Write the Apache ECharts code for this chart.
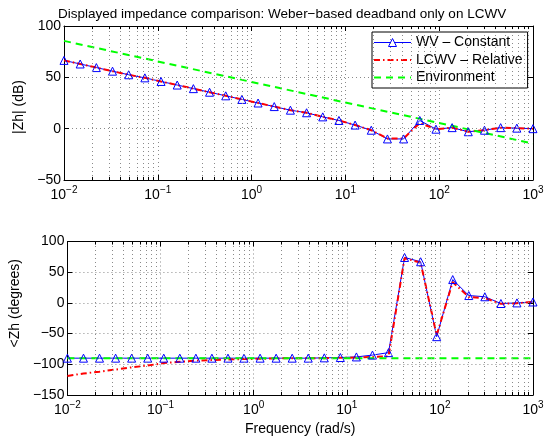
<!DOCTYPE html>
<html>
<head>
<meta charset="utf-8">
<script src="https://cdn.jsdelivr.net/npm/echarts@6/dist/echarts.min.js"></script>
<style>html,body{margin:0;padding:0;background:#fff}#c{width:554px;height:443px}</style>
</head>
<body>
<div id="c"></div>
<script>
// Frequencies (rad/s) of the sampled points
const freq = [0.01, 0.014874, 0.022122, 0.032903, 0.048939, 0.07279, 0.10826, 0.16103, 0.2395, 0.35622,
  0.52983, 0.78805, 1.1721, 1.7433, 2.5929, 3.8566, 5.7362, 8.5317, 12.69, 18.874,
  28.072, 41.753, 62.102, 92.367, 137.38, 204.34, 303.92, 452.04, 672.34, 1000];
// |Zh| (dB)
const magWV = [66.5, 63, 59.5, 56, 52.5, 49.5, 46, 42.5, 39, 35.5, 32, 28.5, 25, 21.5, 18, 15.5, 11.5, 8, 3.5, -1.5,
  -10, -10, 8, -0.5, 1, -3, -1.5, 1, 0.5, 0];
const magLCWV = [66.5, 63, 59.5, 56, 52.5, 49.5, 46, 42.5, 39, 35.5, 32, 28.5, 25, 21.5, 18, 15.5, 11.5, 8, 3.5, -1.5,
  -9.5, -9.5, 5.5, -0.5, 1, -3, -1.5, 1, 0.5, 0];
const envFreq = [0.01, 1000];
const magEnv = [85.5, -14.5];
// <Zh (degrees)
const phaseWV = [-90, -90, -90, -90, -90, -90, -90, -90, -90, -90, -90, -90, -90, -90, -90, -90, -89.5, -89, -88, -85,
  -81, 74, 67, -55, 38, 12, 10, -1, 0, 1.5];
const phaseLCWV = [-119, -115, -112, -108.5, -105, -102, -98, -96, -94, -93, -92, -91.5, -91, -90.5, -90, -90, -90, -89.5, -89, -88,
  -87, 73, 65.5, -52.5, 34, 9.5, 8, -1.5, -0.5, 1.5];
const phaseEnv = [-90, -90];
// Axis ticks
const freqTicks = [0.01, 0.1, 1, 10, 100, 1000];
const magTicks = [-50, 0, 50, 100];
const phaseTicks = [-150, -100, -50, 0, 50, 100];
const seriesNames = ['WV \u2013 Constant', 'LCWV \u2013 Relative', 'Environment'];

const pairs = (x, y) => x.map((v, i) => [v, y[i]]);
const FONT = 'Liberation Sans, Arial, Helvetica, sans-serif';
const FS = 14;
const minus = v => String(v).replace('-', '\u2212');

// minor log positions (2..9 x 10^k) for grid lines / ticks
const minorX = [];
for (let d = 0; d < freqTicks.length - 1; d++) {
  for (let m = 2; m <= 9; m++) minorX.push(+(m * freqTicks[d]).toPrecision(3));
}

function xAxisBase(gridIndex, position, showLabel) {
  return {
    type: 'log', logBase: 10, gridIndex, position,
    min: freqTicks[0], max: freqTicks[freqTicks.length - 1],
    axisLine: { show: true, onZero: false, lineStyle: { color: '#000', width: 1 } },
    axisTick: { show: true, inside: true, length: 5, lineStyle: { color: '#000' } },
    minorTick: { show: false },
    splitLine: { show: showLabel, lineStyle: { color: '#8a8a8a', type: [1, 3], width: 1 } },
    axisLabel: {
      show: showLabel, margin: 5, fontFamily: FONT, color: '#000',
      formatter: v => '{b|10}{s|' + minus(Math.round(Math.log10(v))) + '}',
      rich: {
        b: { fontSize: FS, fontFamily: FONT, color: '#000' },
        s: { fontSize: 10, fontFamily: FONT, color: '#000', padding: [0, 0, 10, 0] }
      }
    }
  };
}
function yAxisBase(gridIndex, position, ticks, showLabel, name, gap, pad) {
  return {
    type: 'value', gridIndex, position,
    min: ticks[0], max: ticks[ticks.length - 1], interval: 50,
    name: name || '', nameLocation: 'middle', nameGap: gap || 30,
    nameTextStyle: { fontSize: FS, fontFamily: FONT, color: '#000', padding: pad || 0 },
    axisLine: { show: true, onZero: false, lineStyle: { color: '#000', width: 1 } },
    axisTick: { show: true, inside: true, length: 5, lineStyle: { color: '#000' } },
    splitLine: { show: showLabel, lineStyle: { color: '#8a8a8a', type: [1, 3], width: 1 } },
    axisLabel: { show: showLabel, margin: 3, fontSize: FS, fontFamily: FONT, color: '#000', formatter: v => minus(v) }
  };
}

function minorMarks(yMin, yMax, tickLen) {
  const data = [];
  const ticks = [];
  minorX.forEach(x => {
    data.push([{ coord: [x, yMin] }, { coord: [x, yMax] }]);
    ticks.push([{ coord: [x, yMin] }, { coord: [x, yMin + tickLen] }]);
    ticks.push([{ coord: [x, yMax] }, { coord: [x, yMax - tickLen] }]);
  });
  return { data, ticks };
}

function helperSeries(xi, yi, yMin, yMax, tickLen) {
  const m = minorMarks(yMin, yMax, tickLen);
  return [{
    type: 'line', xAxisIndex: xi, yAxisIndex: yi, data: [], silent: true, animation: false,
    markLine: { silent: true, symbol: 'none', label: { show: false }, animation: false,
      lineStyle: { color: '#8a8a8a', type: [1, 3], width: 1 }, data: m.data }
  }, {
    type: 'line', xAxisIndex: xi, yAxisIndex: yi, data: [], silent: true, animation: false, z: 5,
    markLine: { silent: true, symbol: 'none', label: { show: false }, animation: false,
      lineStyle: { color: '#000', type: 'solid', width: 1 }, data: m.ticks }
  }];
}

function dataSeries(xi, yi, wv, lcwv, env) {
  return [{
    name: seriesNames[0], type: 'line', xAxisIndex: xi, yAxisIndex: yi, data: pairs(freq, wv),
    symbol: 'triangle', symbolSize: 8, showSymbol: true, z: 3,
    lineStyle: { color: '#0000ff', width: 1 },
    itemStyle: { color: 'rgba(255,255,255,0)', borderColor: '#0000ff', borderWidth: 1 },
    animation: false
  }, {
    name: seriesNames[1], type: 'line', xAxisIndex: xi, yAxisIndex: yi, data: pairs(freq, lcwv),
    symbol: 'none', showSymbol: false, z: 3,
    lineStyle: { color: '#ff0000', width: 2, type: [6, 3, 1.5, 3] }, itemStyle: { color: '#ff0000' },
    animation: false
  }, {
    name: seriesNames[2], type: 'line', xAxisIndex: xi, yAxisIndex: yi, data: pairs(envFreq, env),
    symbol: 'none', showSymbol: false, z: 3,
    lineStyle: { color: '#00ff00', width: 2, type: [7, 5] }, itemStyle: { color: '#00ff00' },
    animation: false
  }];
}

const chart = echarts.init(document.getElementById('c'), null, { renderer: 'canvas' });
chart.setOption({
  backgroundColor: '#fff',
  animation: false,
  title: {
    text: 'Displayed impedance comparison: Weber\u2212based deadband only on LCWV',
    left: 53, top: 2,
    textStyle: { fontSize: 13.5, fontWeight: 'normal', fontFamily: FONT, color: '#000' }
  },
  legend: {
    data: [
      { name: seriesNames[0], lineStyle: { width: 1 },
        itemStyle: { color: '#ffffff', borderColor: '#0000ff', borderWidth: 1 } },
      { name: seriesNames[1], itemStyle: { opacity: 0 } },
      { name: seriesNames[2], itemStyle: { opacity: 0 } }
    ],
    orient: 'vertical', left: 372, top: 32,
    backgroundColor: '#fff', borderColor: '#000', borderWidth: 1,
    padding: [2.5, 5, 2.5, 1], itemGap: 1.5, itemWidth: 37, itemHeight: 10,
    textStyle: { fontSize: FS, fontFamily: FONT, color: '#000', lineHeight: 16 },
    selectedMode: false
  },
  grid: [
    { left: 64, top: 26, width: 469, height: 154, containLabel: false },
    { left: 64, top: 241.5, width: 469, height: 153.5, containLabel: false }
  ],
  xAxis: [
    xAxisBase(0, 'bottom', true),
    xAxisBase(0, 'top', false),
    Object.assign(xAxisBase(1, 'bottom', true), {
      name: 'Frequency (rad/s)', nameLocation: 'middle', nameGap: 27,
      nameTextStyle: { fontSize: FS, fontFamily: FONT, color: '#000' }
    }),
    xAxisBase(1, 'top', false)
  ],
  yAxis: [
    yAxisBase(0, 'left', magTicks, true, '|Zh| (dB)', 28, [0, 8, 0, 0]),
    yAxisBase(0, 'right', magTicks, false),
    yAxisBase(1, 'left', phaseTicks, true, '<Zh (degrees)', 32, [0, 0, 0, 30]),
    yAxisBase(1, 'right', phaseTicks, false)
  ],
  series: [
    ...helperSeries(0, 0, magTicks[0], magTicks[magTicks.length - 1], 3),
    ...helperSeries(2, 2, phaseTicks[0], phaseTicks[phaseTicks.length - 1], 5),
    ...dataSeries(0, 0, magWV, magLCWV, magEnv),
    ...dataSeries(2, 2, phaseWV, phaseLCWV, phaseEnv)
  ]
});
</script>
</body>
</html>
